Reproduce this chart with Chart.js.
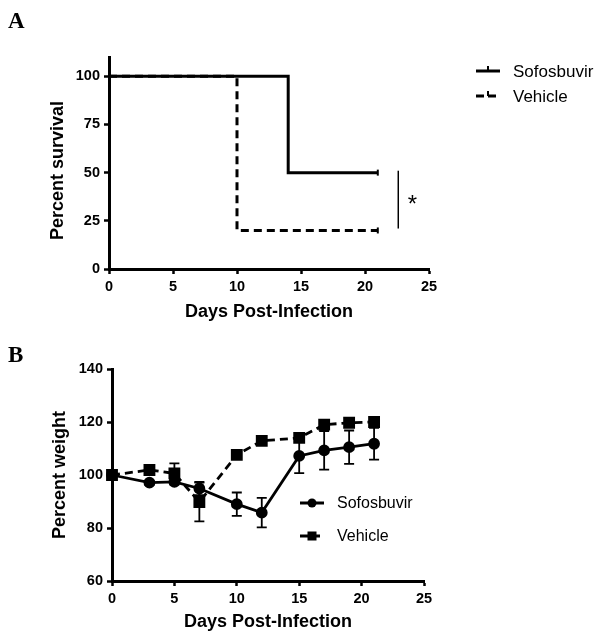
<!DOCTYPE html>
<html>
<head>
<meta charset="utf-8">
<script src="https://cdn.jsdelivr.net/npm/chart.js@4.4.1/dist/chart.umd.min.js"></script>
<style>
  body { margin: 0; background: #fff; }
  .panel { position: absolute; left: 0; width: 604px; }
  .tag { position: absolute; left: 8px; font: bold 23px "Liberation Serif", "Times New Roman", serif; }
</style>
</head>
<body>
<div class="panel" style="top:0;height:330px;"><canvas id="survivalChart" width="604" height="330"></canvas></div>
<div class="panel" style="top:330px;height:313px;"><canvas id="weightChart" width="604" height="313"></canvas></div>
<div class="tag" style="top:8px;">A</div>
<div class="tag" style="top:342px;">B</div>
<script>
// Panel A: Kaplan-Meier survival
const survivalDaysSofos = [0, 14, 21];
const survivalSofos = [100, 50, 50];
const survivalDaysVehicle = [0, 10, 21];
const survivalVehicle = [100, 20, 20];
const survivalTicks = [0, 25, 50, 75, 100];

// Panel B: body weight (mean with error)
const days = [0, 3, 5, 7, 10, 12, 15, 17, 19, 21];
const sofosWeight = [100, 97.1, 97.4, 94.9, 89.0, 85.8, 107.2, 109.3, 110.5, 111.8];
const sofosErr = [0, 0.8, 1.0, 2.5, 4.4, 5.6, 6.5, 7.3, 6.3, 6.0];
const vehicleWeight = [100, 101.9, 100.6, 89.8, 107.6, 112.9, 114.0, 119.0, 119.7, 120.0];
const vehicleErr = [0, 0.8, 3.8, 7.3, 1.0, 1.0, 1.0, 1.0, 1.0, 1.0];
const dayTicks = [0, 5, 10, 15, 20, 25];

const FONT = '"Liberation Sans", Arial, sans-serif';
const toXY = (xs, ys) => xs.map((x, i) => ({ x: x, y: ys[i] }));

function axisOpts(fitSize, title, titlePad) {
    return {
        afterFit: s => { if (s.isHorizontal()) s.height = fitSize; else s.width = fitSize; },
        grid: { drawOnChartArea: false, drawTicks: true, tickLength: 5, tickWidth: 2.5, tickColor: '#000' },
        border: { color: '#000', width: 3 },
        ticks: { color: '#000', padding: 4, font: { family: FONT, size: 14.5, weight: 'bold' } },
        title: { display: true, text: title, color: '#000', padding: titlePad,
                 font: { family: FONT, size: 18, weight: 'bold' } }
    };
}

// draws a small legend: line sample + marker + label
function drawLegend(ctx, items, x, y0, gap, size) {
    ctx.save();
    ctx.font = size + 'px ' + FONT;
    ctx.textBaseline = 'middle';
    items.forEach((it, i) => {
        const y = y0 + i * gap;
        ctx.strokeStyle = '#000';
        ctx.fillStyle = '#000';
        ctx.lineWidth = 3;
        ctx.setLineDash(it.dash || []);
        ctx.beginPath(); ctx.moveTo(x, y); ctx.lineTo(x + 24, y); ctx.stroke();
        ctx.setLineDash([]);
        const cx = x + 12;
        if (it.marker === 'circle') { ctx.beginPath(); ctx.arc(cx, y, 4.5, 0, Math.PI * 2); ctx.fill(); }
        if (it.marker === 'rect') ctx.fillRect(cx - 4.5, y - 4.5, 9, 9);
        if (it.marker === 'tick') { ctx.lineWidth = 2; ctx.beginPath(); ctx.moveTo(cx, y); ctx.lineTo(cx, y - 5); ctx.stroke(); }
        ctx.fillText(it.label, x + 37, y + 1);
    });
    ctx.restore();
}

const survivalPlugin = {
    id: 'survivalExtras',
    afterDraw(chart) {
        const ctx = chart.ctx, xs = chart.scales.x, ys = chart.scales.y;
        // significance bar and asterisk
        ctx.save();
        ctx.strokeStyle = '#000';
        ctx.lineWidth = 1.5;
        const bx = xs.getPixelForValue(22.6);
        ctx.beginPath(); ctx.moveTo(bx, ys.getPixelForValue(51)); ctx.lineTo(bx, ys.getPixelForValue(21)); ctx.stroke();
        ctx.fillStyle = '#000';
        ctx.font = '24px ' + FONT;
        ctx.textAlign = 'center';
        ctx.textBaseline = 'middle';
        ctx.fillText('*', xs.getPixelForValue(23.7), ys.getPixelForValue(33));
        ctx.restore();
        drawLegend(ctx, [
            { label: 'Sofosbuvir', marker: 'tick' },
            { label: 'Vehicle', marker: 'tick', dash: [8, 4] }
        ], 476, 71, 25, 17);
    }
};

new Chart(document.getElementById('survivalChart'), {
    type: 'line',
    data: {
        datasets: [{
            label: 'Sofosbuvir',
            data: toXY(survivalDaysSofos, survivalSofos),
            stepped: 'before',
            borderColor: '#000', borderWidth: 3,
            pointStyle: 'line', pointRotation: 90, pointRadius: [0, 0, 3], pointBorderWidth: 2,
            pointBorderColor: '#000', clip: false
        }, {
            label: 'Vehicle',
            data: toXY(survivalDaysVehicle, survivalVehicle),
            stepped: 'before',
            borderColor: '#000', borderWidth: 3, borderDash: [8, 5],
            pointStyle: 'line', pointRotation: 90, pointRadius: [0, 0, 3], pointBorderWidth: 2,
            pointBorderColor: '#000', clip: false
        }]
    },
    options: {
        responsive: false,
        animation: false,
        layout: { padding: { top: 57, right: 175, left: 0, bottom: 0 } },
        plugins: { legend: { display: false }, tooltip: { enabled: false } },
        scales: {
            x: Object.assign(axisOpts(61, 'Days Post-Infection', { top: 0, bottom: 7 }), {
                type: 'linear', min: 0, max: 25,
                afterBuildTicks: s => { s.ticks = dayTicks.map(v => ({ value: v })); }
            }),
            // trailing spaces nudge the rotated title down a little
            y: Object.assign(axisOpts(109, 'Percent survival   ', { top: 47, bottom: 0 }), {
                type: 'linear', min: 0, max: 110,
                afterBuildTicks: s => { s.ticks = survivalTicks.map(v => ({ value: v })); }
            })
        }
    },
    plugins: [survivalPlugin]
});

const weightPlugin = {
    id: 'weightExtras',
    afterDatasetsDraw(chart) {
        const ctx = chart.ctx, xs = chart.scales.x, ys = chart.scales.y;
        ctx.save();
        ctx.strokeStyle = '#000';
        ctx.lineWidth = 1.8;
        [[sofosWeight, sofosErr], [vehicleWeight, vehicleErr]].forEach(([vals, errs]) => {
            days.forEach((d, i) => {
                if (!errs[i]) return;
                const px = xs.getPixelForValue(d);
                const top = ys.getPixelForValue(vals[i] + errs[i]);
                const bot = ys.getPixelForValue(vals[i] - errs[i]);
                ctx.beginPath();
                ctx.moveTo(px, top); ctx.lineTo(px, bot);
                ctx.moveTo(px - 5, top); ctx.lineTo(px + 5, top);
                ctx.moveTo(px - 5, bot); ctx.lineTo(px + 5, bot);
                ctx.stroke();
            });
        });
        ctx.restore();
    },
    afterDraw(chart) {
        drawLegend(chart.ctx, [
            { label: 'Sofosbuvir', marker: 'circle' },
            { label: 'Vehicle', marker: 'rect', dash: [8, 4] }
        ], 300, 173, 33, 16);
    }
};

new Chart(document.getElementById('weightChart'), {
    type: 'line',
    data: {
        datasets: [{
            label: 'Sofosbuvir',
            data: toXY(days, sofosWeight),
            borderColor: '#000', borderWidth: 2.8,
            pointStyle: 'circle', pointRadius: 4.5,
            pointBackgroundColor: '#000', pointBorderColor: '#000', clip: false
        }, {
            label: 'Vehicle',
            data: toXY(days, vehicleWeight),
            borderColor: '#000', borderWidth: 2.8, borderDash: [8, 5],
            pointStyle: 'rect', pointRadius: 6.4,
            pointBackgroundColor: '#000', pointBorderColor: '#000', clip: false
        }]
    },
    options: {
        responsive: false,
        animation: false,
        layout: { padding: { top: 39, right: 180, left: 0, bottom: 0 } },
        plugins: { legend: { display: false }, tooltip: { enabled: false } },
        scales: {
            x: Object.assign(axisOpts(62, 'Days Post-Infection', { top: 0, bottom: 10 }), {
                type: 'linear', min: 0, max: 25,
                afterBuildTicks: s => { s.ticks = dayTicks.map(v => ({ value: v })); }
            }),
            y: Object.assign(axisOpts(112, 'Percent weight', { top: 49, bottom: 0 }), {
                type: 'linear', min: 60, max: 140,
                ticks: { stepSize: 20, color: '#000', padding: 4, font: { family: FONT, size: 14.5, weight: 'bold' } }
            })
        }
    },
    plugins: [weightPlugin]
});
</script>
</body>
</html>
